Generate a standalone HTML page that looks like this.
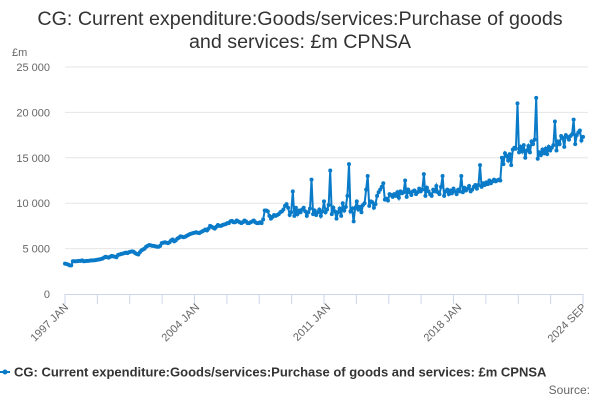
<!DOCTYPE html>
<html><head><meta charset="utf-8"><style>
body{margin:0;background:#fff;width:600px;height:400px;overflow:hidden;font-family:"Liberation Sans",sans-serif}
</style></head><body>
<svg id="chart" width="600" height="400" xmlns="http://www.w3.org/2000/svg">
<text x="300" y="25" text-anchor="middle" font-size="19.7" fill="#333">CG: Current expenditure:Goods/services:Purchase of goods</text>
<text x="300" y="48" text-anchor="middle" font-size="19.7" fill="#333">and services: £m CPNSA</text>
<text x="12" y="56" font-size="11" fill="#666">£m</text>
<g id="grid"></g><g id="xaxis"></g><g id="series"></g>
<g>
<line x1="0" y1="372" x2="10" y2="372" stroke="#0a7bc8" stroke-width="2"/>
<circle cx="5" cy="372" r="2.5" fill="#0a7bc8"/>
<text x="14" y="376.5" font-size="13" font-weight="bold" fill="#333">CG: Current expenditure:Goods/services:Purchase of goods and services: £m CPNSA</text>
</g>
<text x="590" y="394" text-anchor="end" font-size="12" fill="#666">Source:</text>
</svg>
<script>
const yTicks=[0,5000,10000,15000,20000,25000];
const yTickLabels=["0","5 000","10 000","15 000","20 000","25 000"];
const xLabels=["1997 JAN","2004 JAN","2011 JAN","2018 JAN","2024 SEP"];
const xLabelIdx=[0,84,168,252,332];
const values=[
3350,3300,3250,3150,3150,3600,3600,3600,3620,3650,3650,3700,
3600,3620,3650,3650,3680,3700,3700,3720,3750,3780,3800,3850,
3900,4000,4100,4050,4000,4100,4200,4150,4100,4050,4300,4350,
4400,4450,4500,4550,4500,4600,4650,4700,4650,4500,4400,4350,
4600,4800,4900,5000,5200,5300,5400,5350,5300,5300,5250,5200,
5200,5300,5600,5650,5700,5650,5600,5700,5900,6000,5800,5900,
6100,6200,6350,6300,6250,6300,6400,6500,6600,6650,6700,6750,
6800,6750,6700,6800,6900,7000,7100,7000,7200,7500,7400,7300,
7200,7400,7600,7500,7500,7600,7650,7700,7800,7800,8000,8050,
7900,7900,8100,8000,7900,7800,7900,8100,8000,7800,7800,7900,
8000,8100,7900,7800,7800,7900,7800,8200,9200,9200,9100,8600,
8300,8500,8700,8600,8700,8800,9000,9100,9300,9700,9900,9500,
8700,9000,11300,8600,9500,8800,9200,9000,9300,9500,9100,8600,
9000,9400,12600,8800,9200,8700,9000,9300,8600,9100,10200,9000,
9300,9800,13600,8800,9500,9100,8300,9000,9400,8600,10000,9200,
9600,10800,14300,9100,9400,8000,9500,10200,9300,9600,9000,9800,
10000,11500,13000,9700,10200,10100,9500,9900,10800,11200,11500,11800,
12200,10400,10500,10300,11000,10900,10700,11000,10800,11200,10600,11300,
11100,11200,12500,10700,11500,11200,10900,11300,11400,11000,11200,11600,
11300,11500,13200,10800,11700,11300,11000,10800,11500,11300,11900,11200,
11000,11800,13000,10800,11300,11500,11000,11400,11100,11600,11300,11000,
11500,11300,13000,11200,11700,11400,11600,11900,11300,11500,11800,12000,
11600,12000,14200,11800,12200,12000,12300,12100,12500,12200,12400,12600,
12400,12500,12600,12500,15000,14300,15500,15200,14700,15400,14200,15900,
16100,16000,21000,15600,16200,15700,16400,15000,15800,16300,15600,16800,
16500,17000,21600,14900,15600,15300,15900,15500,16000,15400,16200,15800,
16100,16400,19000,15800,16800,16500,17400,17200,16200,17500,17300,17000,
17400,17600,19200,16500,17500,17800,18000,16900,17300];
const NS="http://www.w3.org/2000/svg";
const X0=65,X1=583,Y0=294,Y1=67;
function x(i){return X0+(X1-X0)*i/(values.length-1);}
function y(v){return Y0-(Y0-Y1)*v/25000;}
function mk(t,a,p){const e=document.createElementNS(NS,t);for(const k in a)e.setAttribute(k,a[k]);p.appendChild(e);return e;}
const grid=document.getElementById('grid');
yTicks.forEach((v,i)=>{
 if(i>0){const l=mk('line',{x1:X0,x2:X1+5,y1:y(v),y2:y(v),stroke:'#e6e6e6'},grid);
 
 }
 const t=mk('text',{x:50,y:y(v)+4,'text-anchor':'end','font-size':11,fill:'#666'},grid);
 t.textContent=yTickLabels[i];
 
 
});
const xa=document.getElementById('xaxis');
mk('line',{x1:X0,x2:X1,y1:Y0+0.5,y2:Y0+0.5,stroke:'#ccd6eb'},xa);
for(let k=0;k<=16;k++){const xx=X0+(X1-X0)*k/16;mk('line',{x1:xx,x2:xx,y1:Y0,y2:Y0+10,stroke:'#ccd6eb'},xa);}
xLabels.forEach((s,i)=>{
 const xx=x(xLabelIdx[i])+4,yy=Y0+14;
 const t=mk('text',{x:xx,y:yy,'text-anchor':'end','font-size':11,fill:'#666',transform:`rotate(-45 ${xx} ${yy})`},xa);
 t.textContent=s;
 
 
});
const ser=document.getElementById('series');
const p=mk('path',{d:values.map((v,i)=>(i?'L':'M')+x(i).toFixed(1)+' '+y(v).toFixed(1)).join(''),fill:'none',stroke:'#0a7bc8','stroke-width':2},ser);


values.forEach((v,i)=>{
 const c=mk('circle',{cx:x(i),cy:y(v),r:2,fill:'#0a7bc8'},ser);
 
 
});
</script>
</body></html>
